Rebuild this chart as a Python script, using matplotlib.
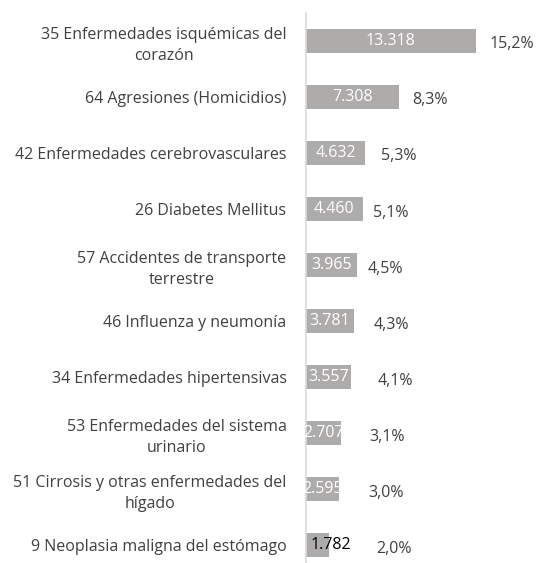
import numpy as np
import matplotlib
matplotlib.use("Agg")
import matplotlib.pyplot as plt

# %%
# data (top to bottom)
causes = ["35 Enfermedades isquémicas del\ncorazón",
          "64 Agresiones (Homicidios)",
          "42 Enfermedades cerebrovasculares",
          "26 Diabetes Mellitus",
          "57 Accidentes de transporte\nterrestre",
          "46 Influenza y neumonía",
          "34 Enfermedades hipertensivas",
          "53 Enfermedades del sistema\nurinario",
          "51 Cirrosis y otras enfermedades del\nhígado",
          "9 Neoplasia maligna del estómago"]
deaths = [13318, 7308, 4632, 4460, 3965, 3781, 3557, 2707, 2595, 1782]
value_labels = ["13.318", "7.308", "4.632", "4.460", "3.965", "3.781", "3.557", "2.707", "2.595", "1.782"]
pct_labels = ["15,2%", "8,3%", "5,3%", "5,1%", "4,5%", "4,3%", "4,1%", "3,1%", "3,0%", "2,0%"]

# label gap after bar end, in points (hand placed in original)
pct_gap = [10, 9.5, 11.5, 7.5, 8, 14, 19, 21, 21, 34]

plt.rcParams['font.family'] = ['Open Sans', 'DejaVu Sans']
txt_col = "#404040"
bar_col = "#aeabab"
fs = 11.5

fig = plt.figure(figsize=(5.39, 5.63), dpi=100)
ax = fig.add_axes([306 / 539, 0, 204 / 539, 550 / 563])

y = np.arange(len(deaths))
ax.barh(y, deaths, height=0.42, color=bar_col)
ax.set_xlim(0, 16000)
ax.set_ylim(9.32, -0.5)

ax.set_yticks(y)
ax.set_yticklabels(causes, fontsize=fs, color=txt_col, linespacing=1.42,
                   multialignment="center")
ax.tick_params(axis="y", length=0, pad=14)
ax.set_xticks([])
for s in ["top", "right", "bottom"]:
    ax.spines[s].set_visible(False)
ax.spines["left"].set_color("#d9d9d9")
ax.spines["left"].set_linewidth(1.2)

for i, v in enumerate(deaths):
    if i == len(deaths) - 1:
        ax.annotate(value_labels[i], (v, i), xytext=(-13, 0), textcoords="offset points",
                    ha="left", va="center", fontsize=fs, color="black", clip_on=False)
    else:
        ax.text(v / 2, i, value_labels[i], ha="center", va="center",
                fontsize=fs, color="white", clip_on=False)
    ax.annotate(pct_labels[i], (v, i), xytext=(pct_gap[i], -2.5), textcoords="offset points",
                ha="left", va="center", fontsize=fs, color=txt_col, annotation_clip=False)

fig.savefig("out.png", dpi=100)
